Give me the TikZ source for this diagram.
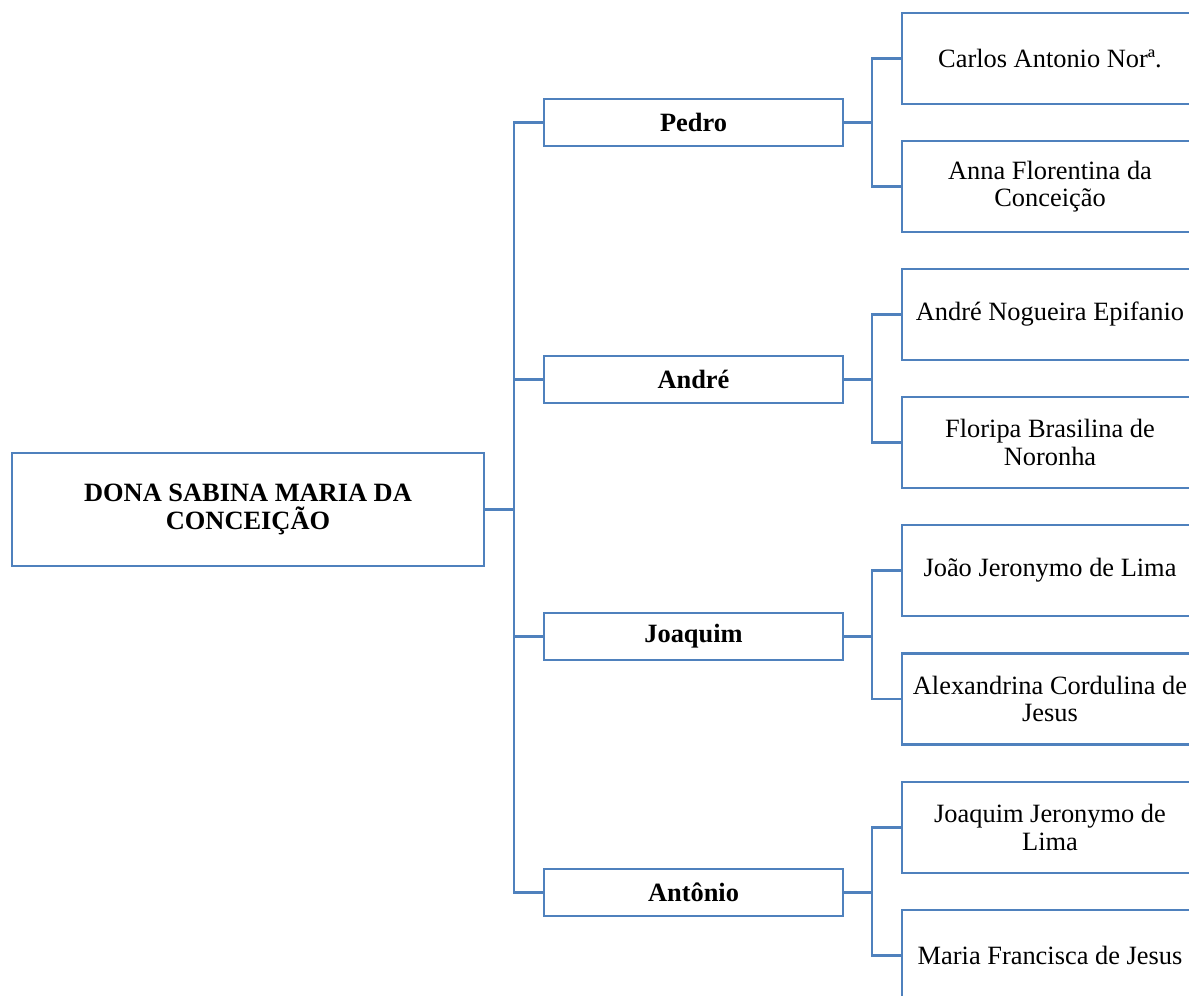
\documentclass[tikz,border=0pt]{standalone}
\usepackage{fontspec}
\setmainfont{Liberation Serif}
\definecolor{lineblue}{RGB}{79,129,189}
\tikzset{
  box/.style={draw=lineblue, line width=1.7pt, fill=white, align=center, inner sep=0pt, text=black},
  txt/.style={font=\fontsize{19.8}{20.6}\selectfont},
  btxt/.style={font=\fontsize{19.8}{20.6}\selectfont\bfseries},
  rootbox/.style={box, btxt, minimum width=354pt, minimum height=84.75pt},
  midbox/.style={box, btxt, minimum width=224.25pt, minimum height=35.25pt},
  leafbox/.style={box, txt, minimum width=222pt, minimum height=68.25pt},
  link/.style={draw=lineblue, line width=1.7pt, line join=miter}
}
\begin{document}
\begin{tikzpicture}[x=0.75pt,y=-0.75pt]
\useasboundingbox (0,0) rectangle (1189,996);
\clip (0,0) rectangle (1189,996);
\fill[white] (0,0) rectangle (1189,996);

% root
\node[rootbox] (root) at (248,509.5) {DONA SABINA MARIA DA\\CONCEIÇÃO};

% children
\node[midbox] (pedro) at (693.5,122.5) {Pedro};
\node[midbox] (andre) at (693.5,379.5) {André};
\node[midbox] (joaquim) at (693.5,636.5) {Joaquim};
\node[midbox] (antonio) at (693.5,892.5) {Antônio};

% grandchildren
\node[leafbox] (carlos) at (1050,58.5) {Carlos Antonio Norª.};
\node[leafbox] (anna) at (1050,186.5) {Anna Florentina da\\Conceição};
\node[leafbox] (andren) at (1050,314.5) {André Nogueira Epifanio};
\node[leafbox] (floripa) at (1050,442.5) {Floripa Brasilina de\\Noronha};
\node[leafbox] (joao) at (1050,570.5) {João Jeronymo de Lima};
\node[leafbox] (alex) at (1050,699) {Alexandrina Cordulina de\\Jesus};
\node[leafbox] (joaqj) at (1050,827.5) {Joaquim Jeronymo de\\Lima};
\node[leafbox] (maria) at (1050,955.5) {Maria Francisca de Jesus};

% trunk
\coordinate (tx) at (514,0);
\coordinate (bx) at (872,0);
\draw[link] (root.east) -- (tx |- root.east);
\draw[link] (pedro.west) -- (tx |- pedro.west) -- (tx |- antonio.west) -- (antonio.west);
\foreach \m in {andre,joaquim}
  \draw[link] (tx |- \m.west) -- (\m.west);

% brackets
\foreach \m/\a/\b in {pedro/carlos/anna, andre/andren/floripa, joaquim/joao/alex, antonio/joaqj/maria}{
  \draw[link] (\m.east) -- (bx |- \m.east);
  \draw[link] (\a.west) -- (bx |- \a.west) -- (bx |- \b.west) -- (\b.west);
}
\end{tikzpicture}
\end{document}
